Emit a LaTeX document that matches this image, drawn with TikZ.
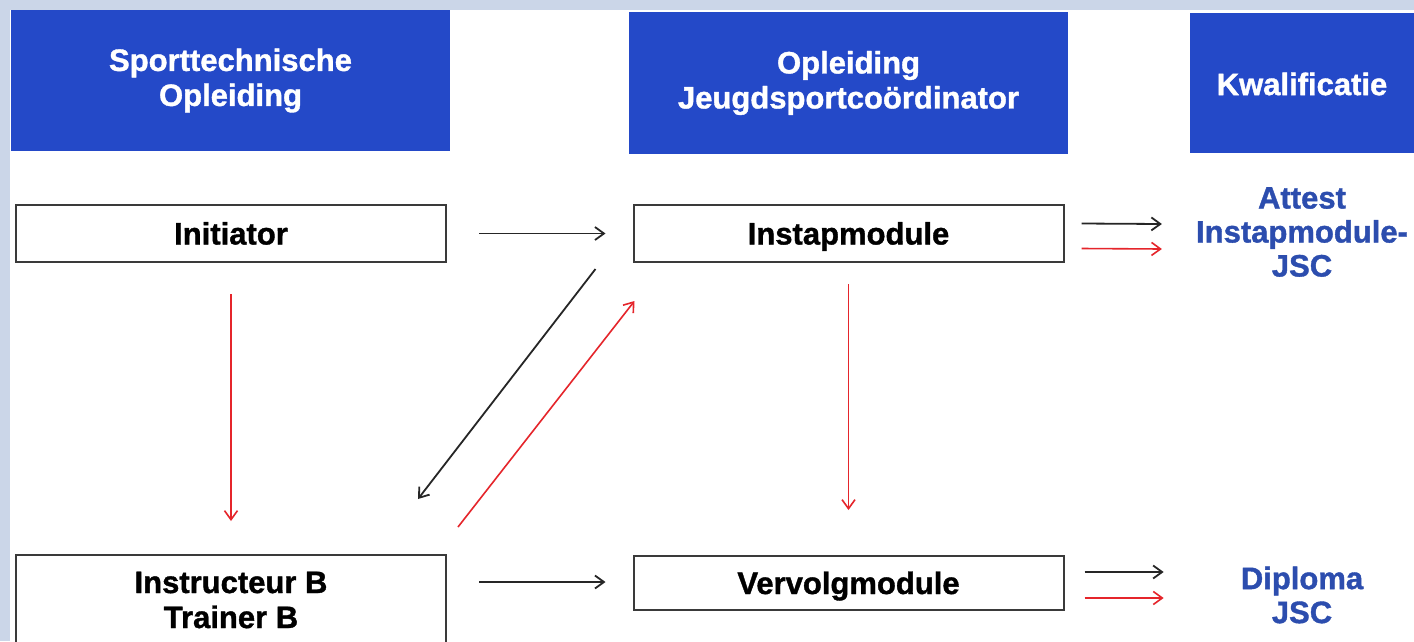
\documentclass[tikz,border=0pt]{standalone}
\usepackage{fontspec}
\setmainfont{Liberation Sans}[BoldFeatures={FakeBold=1.2}]
\usetikzlibrary{arrows.meta,calc}
\definecolor{hdrblue}{HTML}{2449C8}
\definecolor{txtblue}{HTML}{2C4DAE}
\definecolor{bgstrip}{HTML}{CBD6E8}
\definecolor{arrred}{HTML}{E5252B}
\definecolor{boxgray}{HTML}{3A3A3A}
\tikzset{
  hdr/.style={fill=hdrblue, draw=none, text=white, font=\fontsize{31}{35}\selectfont\bfseries, align=center, inner sep=0pt},
  whitebox/.style={draw=boxgray, line width=2pt, fill=white, font=\fontsize{31}{35}\selectfont\bfseries, align=center, minimum width=430pt, inner sep=0pt},
  onebox/.style={whitebox, text height=22pt, text depth=0pt},
  qual/.style={text=txtblue, font=\fontsize{31}{34}\selectfont\bfseries, align=center, inner sep=0pt},
  blk/.style={draw=black!85, line width=1.8pt, -{Straight Barb[length=9pt,width=13pt,line width=1.8pt]}},
  redarr/.style={draw=arrred, line width=1.6pt, -{Straight Barb[length=9pt,width=13pt,line width=1.6pt]}},
}
\begin{document}
\begin{tikzpicture}[x=1pt,y=-1pt]
\useasboundingbox (0,0) rectangle (1414,641);
\clip (0,0) rectangle (1414,641);
\fill[bgstrip] (0,0) rectangle (1414,641);
\fill[white] (10,10) rectangle (1414,641);
% headers
\node[hdr, minimum width=439pt, minimum height=141pt] (h1) at (230.5,80.5) {Sporttechnische\\Opleiding};
\node[hdr, minimum width=439pt, minimum height=142pt] (h2) at (848.5,83) {Opleiding\\Jeugdsportcoördinator};
\node[hdr, minimum width=240pt, minimum height=140pt] (h3) at (1310,83) {};
\node[text=white, font=\fontsize{31}{35}\selectfont\bfseries, inner sep=0pt] (h3t) at (1302,84) {Kwalificatie};
% boxes
\node[onebox, minimum height=57pt] (init) at (231,233.5) {Initiator};
\node[onebox, minimum height=57pt] (instap) at (848.5,233.5) {Instapmodule};
\node[onebox, minimum height=54pt] (verv) at (848.5,583) {Vervolgmodule};
\node[whitebox, minimum height=90pt] (instr) at (231,600) {Instructeur B\\Trainer B};
% qualifications
\node[qual] (attest) at (1302,232) {Attest\\Instapmodule-\\JSC};
\node[qual] (diploma) at (1302,595) {Diploma\\JSC};
% arrows
\draw[blk] ($(init.east)+(32,0)$) -- ($(instap.west)+(-27,0)$);
\draw[blk] ($(instr.east |- verv.west)+(32,-1)$) -- ($(verv.west)+(-27,-1)$);
\draw[redarr] ($(init.south)+(0,31)$) -- ($(instr.north)+(0,-33)$);
\draw[redarr] ($(instap.south)+(0,21)$) -- ($(verv.north)+(0,-45)$);
\draw[blk] ($(instap.south west)+(-37,6)$) -- ($(instr.north east)+(-29,-55)$);
\draw[redarr] ($(instr.north east)+(11,-27)$) -- ($(instap.south west)+(2,38)$);
\draw[blk] ($(instap.east)+(17,-10)$) -- ($(attest.west)+(-34,-8)$);
\draw[redarr] ($(instap.east)+(17,15)$) -- ($(attest.west)+(-34,17)$);
\draw[blk] ($(verv.east)+(20,-11)$) -- ($(diploma.west)+(-77,-23)$);
\draw[redarr] ($(verv.east)+(20,15)$) -- ($(diploma.west)+(-77,3)$);
\end{tikzpicture}
\end{document}
